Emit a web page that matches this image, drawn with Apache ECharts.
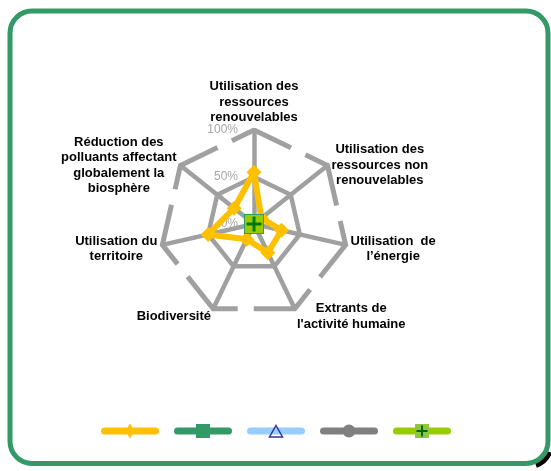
<!DOCTYPE html>
<html>
<head>
<meta charset="utf-8">
<script src="https://cdn.jsdelivr.net/npm/echarts@6/dist/echarts.min.js"></script>
<style>
    html, body { margin: 0; padding: 0; background: #fff; }
    #chartRadar { width: 551px; height: 471px; }
</style>
</head>
<body>
<div id="chartRadar"></div>
<script>
    // axes, from the top, going round counterclockwise
    const indicatorNames = [
        'Utilisation des\nressources\nrenouvelables',
        'Réduction des\npolluants affectant\nglobalement la\nbiosphère',
        'Utilisation du\nterritoire',
        'Biodiversité',
        'Extrants de\nl\'activité humaine',
        'Utilisation  de\nl’énergie',
        'Utilisation des\nressources non\nrenouvelables'
    ];
    const seriesNames = ['Série 1', 'Série 2', 'Série 3', 'Série 4', 'Série 5'];
    const serie1 = [55, 27, 50, 18, 34, 30, 10];
    const serie2 = [0, 0, 0, 0, 0, 0, 0];
    const serie3 = [0, 0, 0, 0, 0, 0, 0];
    const serie4 = [0, 0, 0, 0, 0, 0, 0];
    const serie5 = [0, 0, 0, 0, 0, 0, 0];
    const axisMax = 100;

    const font = "'Liberation Sans', Arial, sans-serif";
    const gridColor = '#a0a0a0';

    function svgIcon(svg) {
        return 'image://data:image/svg+xml;charset=utf-8,' + encodeURIComponent(svg);
    }
    function legendIcon(color, marker) {
        return svgIcon('<svg xmlns="http://www.w3.org/2000/svg" width="58" height="16" viewBox="0 0 58 16">' +
            '<line x1="3.5" y1="8" x2="54.5" y2="8" stroke="' + color + '" stroke-width="7" stroke-linecap="round"/>' +
            marker + '</svg>');
    }
    const legendIcons = [
        legendIcon('#FFC000', '<polygon points="29,0.5 33.5,8 29,15.5 24.5,8" fill="#FFC000"/>'),
        legendIcon('#339966', '<rect x="22" y="1" width="14" height="14" fill="#339966"/>'),
        legendIcon('#99CCFF', '<polygon points="29,2.5 35.5,14 22.5,14" fill="none" stroke="#333399" stroke-width="1.5"/>'),
        legendIcon('#808080', '<circle cx="29" cy="8" r="6.5" fill="#808080"/>'),
        legendIcon('#99CC00', '<rect x="22" y="1" width="14" height="14" fill="#8DC63F"/>' +
            '<line x1="29" y1="2.5" x2="29" y2="13.5" stroke="#006600" stroke-width="2"/>' +
            '<line x1="23.5" y1="8" x2="34.5" y2="8" stroke="#006600" stroke-width="2"/>')
    ];
    const plusSymbol = svgIcon('<svg xmlns="http://www.w3.org/2000/svg" width="20" height="20" viewBox="0 0 20 20">' +
        '<rect x="0.5" y="0.5" width="19" height="19" fill="#99CC00" stroke="#339966" stroke-width="1"/>' +
        '<line x1="10" y1="2.5" x2="10" y2="17.5" stroke="#007A00" stroke-width="3"/>' +
        '<line x1="2.5" y1="10" x2="17.5" y2="10" stroke="#007A00" stroke-width="3"/></svg>');

    const center = [254, 224];
    const radius = 94;
    const edge = 2 * radius * Math.sin(Math.PI / indicatorNames.length);

    const option = {
        animation: false,
        graphic: [
            {
                // little shadow at the bottom right corner of the frame
                type: 'arc', z: -10, silent: true,
                shape: { cx: 529, cy: 444.5, r: 22, startAngle: 0.35, endAngle: 1.25 },
                style: { stroke: '#000', lineWidth: 5, fill: null }
            },
            {
                type: 'rect', z: -9, silent: true,
                shape: { x: 10, y: 11, width: 538, height: 452.5, r: 22 },
                style: { fill: '#fff', stroke: '#339966', lineWidth: 5 }
            }
        ],
        legend: {
            left: 96,
            top: 418,
            itemWidth: 58,
            itemHeight: 16,
            itemGap: 15,
            selectedMode: false,
            formatter: () => '',
            data: seriesNames.map((name, i) => ({ name: name, icon: legendIcons[i] }))
        },
        radar: [
            {
                center: center,
                radius: radius,
                startAngle: 90,
                splitNumber: 2,
                nameGap: 5,
                indicator: indicatorNames.map((name, i) => i === 0
                    ? { name: name, min: 0, max: axisMax, axisLabel: { show: true } }
                    : { name: name, min: 0, max: axisMax }),
                axisName: {
                    color: '#000',
                    fontFamily: font,
                    fontSize: 13,
                    fontWeight: 'bold',
                    lineHeight: 15.5,
                    padding: [1.5, 0, -4.5, 0],
                    formatter: (name) => name.split('\n').map(l => '{c|' + l + '}').join('\n'),
                    rich: {
                        c: { align: 'center', color: '#000', fontFamily: font, fontSize: 13, fontWeight: 'bold', lineHeight: 15.5 }
                    }
                },
                axisLine: { lineStyle: { color: gridColor, width: 4.5 } },
                axisTick: { show: false },
                axisLabel: {
                    show: false,
                    formatter: '{value}%',
                    color: '#a6a6a6',
                    fontFamily: font,
                    fontSize: 12,
                    margin: 16
                },
                splitLine: { lineStyle: { color: [gridColor, gridColor, 'rgba(0,0,0,0)'], width: 4.5 } },
                splitArea: { show: false }
            },
            {
                // outer ring, dashed
                center: center,
                radius: radius,
                startAngle: 90,
                splitNumber: 1,
                indicator: indicatorNames.map(() => ({ name: '', min: 0, max: axisMax })),
                axisName: { show: false },
                axisLine: { show: false },
                axisTick: { show: false },
                axisLabel: { show: false },
                splitLine: {
                    lineStyle: {
                        color: ['rgba(0,0,0,0)', gridColor],
                        width: 5,
                        type: [edge - 16, 16],
                        dashOffset: edge - 40.5
                    }
                },
                splitArea: { show: false }
            }
        ],
        series: [
            {
                type: 'radar',
                radarIndex: 0,
                data: [
                    {
                        name: seriesNames[0], value: serie1,
                        symbol: 'diamond', symbolSize: 15,
                        lineStyle: { color: '#FFC000', width: 6, join: 'round' },
                        itemStyle: { color: '#FFC000' }
                    },
                    {
                        name: seriesNames[1], value: serie2,
                        symbol: 'rect', symbolSize: 14,
                        lineStyle: { color: '#339966', width: 6 },
                        itemStyle: { color: '#339966' }
                    },
                    {
                        name: seriesNames[2], value: serie3,
                        symbol: 'triangle', symbolSize: 13,
                        lineStyle: { color: '#99CCFF', width: 6 },
                        itemStyle: { color: 'rgba(0,0,0,0)', borderColor: '#333399', borderWidth: 1.5 }
                    },
                    {
                        name: seriesNames[3], value: serie4,
                        symbol: 'circle', symbolSize: 13,
                        lineStyle: { color: '#808080', width: 6 },
                        itemStyle: { color: '#808080' }
                    },
                    {
                        name: seriesNames[4], value: serie5,
                        symbol: plusSymbol, symbolSize: 20,
                        lineStyle: { color: '#99CC00', width: 6 },
                        itemStyle: { color: '#99CC00' }
                    }
                ]
            }
        ]
    };

    const myChart = echarts.init(document.getElementById('chartRadar'));
    myChart.setOption(option);
</script>
</body>
</html>
